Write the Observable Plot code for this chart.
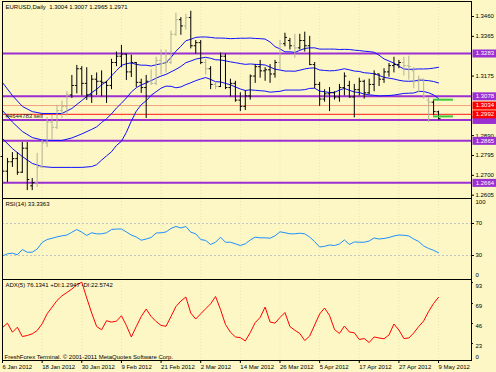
<!DOCTYPE html>
<html><head><meta charset="utf-8">
<script src="https://cdn.jsdelivr.net/npm/d3@7"></script>
<script src="https://cdn.jsdelivr.net/npm/@observablehq/plot@0.6"></script>
<style>
html,body{margin:0;padding:0;background:#FCF7C4;}
#wrap{position:relative;width:496px;height:372px;overflow:hidden;background:#FCF7C4;}
#wrap svg{position:absolute;left:0;}
</style></head><body><div id="wrap"></div>
<script>
// ---------- DATA ----------
const dates = ["2012-01-06","2012-01-09","2012-01-10","2012-01-11","2012-01-12","2012-01-13","2012-01-16","2012-01-17","2012-01-18","2012-01-19",
"2012-01-20","2012-01-23","2012-01-24","2012-01-25","2012-01-26","2012-01-27","2012-01-30","2012-01-31","2012-02-01","2012-02-02",
"2012-02-03","2012-02-06","2012-02-07","2012-02-08","2012-02-09","2012-02-10","2012-02-13","2012-02-14","2012-02-15","2012-02-16",
"2012-02-17","2012-02-20","2012-02-21","2012-02-22","2012-02-23","2012-02-24","2012-02-27","2012-02-28","2012-02-29","2012-03-01",
"2012-03-02","2012-03-05","2012-03-06","2012-03-07","2012-03-08","2012-03-09","2012-03-12","2012-03-13","2012-03-14","2012-03-15",
"2012-03-16","2012-03-19","2012-03-20","2012-03-21","2012-03-22","2012-03-23","2012-03-26","2012-03-27","2012-03-28","2012-03-29",
"2012-03-30","2012-04-02","2012-04-03","2012-04-04","2012-04-05","2012-04-06","2012-04-09","2012-04-10","2012-04-11","2012-04-12",
"2012-04-13","2012-04-16","2012-04-17","2012-04-18","2012-04-19","2012-04-20","2012-04-23","2012-04-24","2012-04-25","2012-04-26",
"2012-04-27","2012-04-30","2012-05-01","2012-05-02","2012-05-03","2012-05-04","2012-05-07","2012-05-08","2012-05-09"];

const open = [1.2790,1.2720,1.2765,1.2780,1.2715,1.2830,1.2650,1.2665,1.2740,1.2855,
1.2955,1.2930,1.3010,1.3030,1.3085,1.3130,1.3210,1.3140,1.3085,1.3160,
1.3150,1.3145,1.3130,1.3240,1.3270,1.3280,1.3195,1.3240,1.3145,1.3120,
1.3150,1.3140,1.3250,1.3235,1.3240,1.3375,1.3445,1.3415,1.3455,1.3320,
1.3335,1.3240,1.3210,1.3135,1.3125,1.3270,1.3120,1.3140,1.3060,1.3030,
1.3080,1.3175,1.3220,1.3200,1.3205,1.3185,1.3240,1.3330,1.3345,1.3320,
1.3310,1.3345,1.3320,1.3230,1.3135,1.3065,1.3090,1.3095,1.3075,1.3120,
1.3130,1.3075,1.3110,1.3150,1.3095,1.3135,1.3185,1.3160,1.3195,1.3225,
1.3230,1.3240,1.3225,1.3200,1.3150,1.3160,1.3060,1.3050,1.3004];
const high = [1.2810,1.2781,1.2809,1.2809,1.2857,1.2857,1.2685,1.2805,1.2867,1.2977,
1.2985,1.3035,1.3055,1.3100,1.3178,1.3226,1.3220,1.3215,1.3178,1.3190,
1.3200,1.3150,1.3255,1.3290,1.3322,1.3280,1.3275,1.3240,1.3160,1.3178,
1.3205,1.3265,1.3300,1.3300,1.3390,1.3476,1.3455,1.3470,1.3485,1.3345,
1.3345,1.3255,1.3220,1.3145,1.3285,1.3280,1.3160,1.3150,1.3095,1.3105,
1.3180,1.3230,1.3250,1.3215,1.3230,1.3250,1.3345,1.3380,1.3355,1.3375,
1.3375,1.3385,1.3365,1.3240,1.3145,1.3110,1.3120,1.3100,1.3135,1.3190,
1.3150,1.3135,1.3165,1.3155,1.3160,1.3200,1.3185,1.3210,1.3235,1.3265,
1.3250,1.3265,1.3270,1.3215,1.3175,1.3160,1.3072,1.3062,1.3007];
const low = [1.2665,1.2666,1.2738,1.2700,1.2709,1.2627,1.2627,1.2642,1.2733,1.2833,
1.2867,1.2920,1.2972,1.2985,1.3068,1.3090,1.3080,1.3058,1.3044,1.3082,
1.3076,1.3044,1.3110,1.3220,1.3215,1.3154,1.3168,1.3120,1.3092,1.2972,
1.3130,1.3130,1.3180,1.3190,1.3230,1.3365,1.3370,1.3395,1.3305,1.3280,
1.3230,1.3180,1.3110,1.3110,1.3120,1.3110,1.3075,1.3050,1.3005,1.3010,
1.3060,1.3140,1.3165,1.3150,1.3140,1.3165,1.3205,1.3315,1.3300,1.3260,
1.3300,1.3290,1.3225,1.3115,1.3030,1.3050,1.3005,1.3060,1.3050,1.3080,
1.3070,1.2975,1.3080,1.3065,1.3085,1.3100,1.3125,1.3140,1.3170,1.3190,
1.3210,1.3175,1.3155,1.3115,1.3095,1.3065,1.2953,1.2985,1.2965];
const close = [1.2720,1.2765,1.2780,1.2715,1.2830,1.2680,1.2665,1.2740,1.2855,1.2955,
1.2930,1.3010,1.3030,1.3085,1.3130,1.3210,1.3140,1.3085,1.3160,1.3150,
1.3145,1.3130,1.3240,1.3270,1.3280,1.3195,1.3240,1.3145,1.3120,1.3150,
1.3140,1.3250,1.3235,1.3240,1.3375,1.3445,1.3415,1.3455,1.3320,1.3335,
1.3240,1.3210,1.3135,1.3125,1.3270,1.3120,1.3140,1.3060,1.3030,1.3080,
1.3175,1.3220,1.3200,1.3205,1.3185,1.3240,1.3330,1.3360,1.3320,1.3310,
1.3345,1.3320,1.3230,1.3135,1.3065,1.3090,1.3095,1.3075,1.3120,1.3175,
1.3075,1.3110,1.3150,1.3095,1.3135,1.3185,1.3160,1.3195,1.3225,1.3230,
1.3240,1.3225,1.3220,1.3150,1.3160,1.3080,1.3050,1.3005,1.2971];
// bar paint group as seen in the picture (m = dark bars, a = pale bars)
const barKind = ["m","m","m","m","m","m","m","a","a","a",
"a","a","a","a","m","m","m","m","m","m",
"m","m","m","m","m","m","m","m","m","m",
"a","a","a","a","a","a","m","a","m","m",
"m","a","m","a","m","m","m","m","m","m",
"m","m","m","m","m","m","a","m","m","a",
"m","m","m","m","m","m","m","m","m","m",
"m","m","m","m","m","m","m","m","m","m",
"m","a","a","a","a","a","a","m","m"];

// Bollinger bands (20, 1 dev) as drawn in the picture
const bandIdx = [0,2,4,6,8,10,12,14,16,18,
19,20,21,22,23,24,25,26,27,28,29,
30,31,32,33,34,35,36,37,38,39,
40,41,42,43,44,45,46,47,48,49,
50,51,52,53,54,55,56,57,58,59,
60,61,62,63,64,65,66,67,68,69,
70,71,72,73,74,75,76,77,78,79,
80,81,82,83,84,85,86,87,88];
const bbUpper = [1.3144,1.3082,1.3030,1.3005,1.2996,1.2996,1.2996,1.3020,1.3058,1.3096,
1.3112,1.3133,1.3149,1.3176,1.3201,1.3226,1.3234,1.3238,1.3231,1.3227,1.3227,
1.3223,1.3229,1.3234,1.3239,1.3264,1.3294,1.3318,1.3344,1.3351,1.3360,
1.3362,1.3362,1.3360,1.3357,1.3357,1.3356,1.3354,1.3355,1.3356,1.3356,
1.3357,1.3355,1.3354,1.3352,1.3338,1.3316,1.3305,1.3291,1.3291,1.3288,
1.3298,1.3307,1.3310,1.3310,1.3304,1.3304,1.3304,1.3304,1.3302,1.3303,
1.3302,1.3299,1.3297,1.3294,1.3292,1.3289,1.3275,1.3257,1.3247,1.3237,
1.3222,1.3209,1.3207,1.3208,1.3209,1.3209,1.3210,1.3213,1.3217];
const bbMiddle = [1.3010,1.2955,1.2910,1.2881,1.2869,1.2867,1.2867,1.2879,1.2898,1.2920,
1.2932,1.2953,1.2971,1.2994,1.3022,1.3045,1.3070,1.3099,1.3119,1.3133,1.3142,
1.3153,1.3165,1.3175,1.3183,1.3195,1.3207,1.3221,1.3239,1.3247,1.3256,
1.3261,1.3265,1.3260,1.3253,1.3252,1.3248,1.3243,1.3239,1.3235,1.3231,
1.3233,1.3231,1.3230,1.3228,1.3218,1.3208,1.3204,1.3199,1.3199,1.3198,
1.3203,1.3209,1.3213,1.3214,1.3204,1.3202,1.3200,1.3201,1.3205,1.3210,
1.3205,1.3199,1.3197,1.3191,1.3189,1.3186,1.3178,1.3169,1.3165,1.3161,
1.3155,1.3151,1.3150,1.3151,1.3156,1.3155,1.3153,1.3149,1.3142];
const bbLower = [1.2876,1.2828,1.2790,1.2757,1.2742,1.2738,1.2738,1.2738,1.2738,1.2742,
1.2751,1.2773,1.2793,1.2813,1.2843,1.2863,1.2906,1.2960,1.3007,1.3038,1.3057,
1.3083,1.3100,1.3117,1.3127,1.3126,1.3119,1.3123,1.3134,1.3143,1.3153,
1.3161,1.3168,1.3159,1.3148,1.3147,1.3140,1.3133,1.3123,1.3113,1.3106,
1.3109,1.3107,1.3105,1.3103,1.3098,1.3100,1.3102,1.3108,1.3108,1.3108,
1.3108,1.3110,1.3116,1.3117,1.3103,1.3100,1.3096,1.3097,1.3108,1.3116,
1.3107,1.3099,1.3096,1.3089,1.3085,1.3083,1.3080,1.3081,1.3082,1.3084,
1.3088,1.3092,1.3093,1.3094,1.3102,1.3101,1.3095,1.3085,1.3067];

const levelValues = [1.3283,1.3078,1.2965,1.2865,1.2664,1.3034,1.2992];
const levelKinds  = ["level","level","level","level","level","stop","order"];
const markLevels = [1.3062,1.2982];
const markFrom = 87, markTo = 91;

const rsi = [29.4,32.1,32.9,30.9,37.5,34.1,34.1,38.1,46.3,50.0,
51.5,53.3,54.6,55.6,59.1,62.5,59.1,55.0,58.4,57.1,
57.1,58.4,62.5,63.1,63.1,59.4,55.6,53.1,49.1,50.6,
52.5,58.1,58.4,59.4,63.8,66.3,64.4,66.3,59.1,57.1,
50.0,48.8,43.8,46.6,52.9,46.6,46.6,44.6,42.5,44.6,
49.4,52.9,52.1,52.1,51.6,54.6,59.6,58.5,57.1,57.1,
57.9,57.1,53.1,47.3,40.6,41.5,43.1,42.5,44.4,49.4,
43.8,46.9,46.6,46.6,48.1,51.9,50.6,51.3,52.5,54.4,
55.6,55.3,54.4,50.6,47.5,41.9,38.8,36.5,33.3];
const rsiLevels = [70,30];

const adx = [41.4,46.3,36.0,41.7,31.0,32.2,34.1,37.9,45.6,57.1,
64.7,72.4,77.8,81.6,85.6,90.6,93.4,75.3,58.0,42.5,
38.7,49.2,47.6,48.6,54.9,43.7,30.5,42.5,54.0,62.6,
54.0,48.3,43.7,42.8,54.0,65.5,71.8,76.4,58.0,51.1,
57.1,62.9,68.6,77.0,62.0,44.8,36.0,30.5,29.7,25.9,
35.6,47.1,52.9,64.9,47.7,46.4,52.9,58.6,42.5,38.2,
34.5,26.4,31.6,44.3,56.9,63.8,55.2,39.1,34.5,43.1,
36.2,35.3,27.6,28.7,24.1,30.5,29.3,28.4,32.8,45.4,
38.5,28.7,29.3,35.1,42.5,48.9,59.8,69.0,76.1];

// price axis labels that stay readable (1.3270, 1.3080, 1.2985 sit under level boxes)
const priceTicks = [1.3460,1.3365,1.3175,1.2890,1.2795,1.2700,1.2605];
const adxTicks = [93,69,46,23];
const dateTickIdx = [0,8,16,24,32,40,48,56,64,72,80,88];
const dateTickLabels = ["6 Jan 2012","18 Jan 2012","30 Jan 2012","9 Feb 2012","21 Feb 2012","2 Mar 2012","14 Mar 2012","26 Mar 2012","5 Apr 2012","17 Apr 2012","27 Apr 2012","9 May 2012"];

const headerText = "EURUSD,Daily  1.3004 1.3007 1.2965 1.2971";
const orderText = "#4644783 sell";
const rsiTitle = "RSI(14) 33.3363";
const adxTitle = "ADX(5) 76.1341 +DI:1.2947 -DI:22.5742";
const copyright = "FreshForex Terminal. \u00A9 2001-2011 MetaQuotes Software Corp.";

// ---------- DRAW ----------
const FONT = "'Liberation Sans', Arial, sans-serif";
const xDomain = [0, 94.65];
const GRID = "#EDE4B2";
const common = {width: 496, marginLeft: 2, marginRight: 25,
  style: {background: "transparent", fontFamily: FONT, fontSize: "6px", color: "#000", overflow: "visible"}};

const bars = dates.map((d, i) => ({i, date: d, open: open[i], high: high[i], low: low[i], close: close[i], kind: barKind[i]}));
const barColor = d => d.kind === "a" ? "#B2B299" : "#000000";
const bands = bandIdx.map((i, k) => ({i, upper: bbUpper[k], middle: bbMiddle[k], lower: bbLower[k]}));
const levels = levelValues.map((v, k) => ({value: v, kind: levelKinds[k]}));
const LINE = {level: "#9A2FD2", stop: "#F2A080", order: "#FF1A1A"};
const BOX = {level: "#9A2FD2", stop: "#FF0000", order: "#FF0000"};
const purple = levels.filter(d => d.kind === "level");
const reds = levels.filter(d => d.kind !== "level");
// the purple box just under the 1.2992 order box keeps only its edge visible
const purpleLabelled = purple.filter(d => d.value !== 1.2965);
const BLUE = "#1010FF";

const main = Plot.plot({
  ...common, height: 198, marginTop: 1, marginBottom: 0,
  x: {domain: xDomain, axis: null},
  y: {domain: [1.25892, 1.35318], axis: null},
  marks: [
    Plot.ruleX(dateTickIdx, {x: d => d, stroke: GRID, strokeDasharray: "1,2"}),
    Plot.ruleY(reds, {y: "value", stroke: d => LINE[d.kind], strokeWidth: 1}),
    Plot.ruleY(purple, {y: "value", stroke: LINE.level, strokeWidth: 2}),
    Plot.line(bands, {x: "i", y: "upper", stroke: BLUE, strokeWidth: 1}),
    Plot.line(bands, {x: "i", y: "middle", stroke: BLUE, strokeWidth: 1}),
    Plot.line(bands, {x: "i", y: "lower", stroke: BLUE, strokeWidth: 1}),
    Plot.ruleX(bars, {x: "i", y1: "low", y2: "high", stroke: barColor, strokeWidth: 1}),
    Plot.link(bars, {x1: d => d.i - 0.4, x2: d => d.i, y1: "open", y2: "open", stroke: barColor}),
    Plot.link(bars, {x1: d => d.i, x2: d => d.i + 0.4, y1: "close", y2: "close", stroke: barColor}),
    Plot.ruleY(markLevels, {y: d => d, x1: markFrom, x2: markTo, stroke: "#3CC83C", strokeWidth: 2}),
    Plot.text([orderText], {y: () => 1.2992, frameAnchor: "left", dx: 3, dy: 2, textAnchor: "start", fill: "#222"}),
    Plot.frame({stroke: "#000"}),
    Plot.axisY({anchor: "right", ticks: priceTicks, tickFormat: d3.format(".4f"), tickSize: 2, tickPadding: 2, fontSize: 6}),
    Plot.ruleY(purple, {y: "value", x1: 94.95, x2: 99.8, stroke: BOX.level, strokeWidth: 8}),
    Plot.text(purpleLabelled, {y: "value", x: 95.5, text: d => d.value.toFixed(4), fill: "#fff", textAnchor: "start"}),
    Plot.ruleY(reds, {y: "value", x1: 94.95, x2: 99.8, stroke: d => BOX[d.kind], strokeWidth: 8}),
    Plot.text(reds, {y: "value", x: 95.5, text: d => d.value.toFixed(4), fill: "#fff", textAnchor: "start"}),
    Plot.text([headerText], {frameAnchor: "top-left", dx: 3, dy: 3, textAnchor: "start", lineAnchor: "top"})
  ]
});
main.style.top = "0px";

const rsiPlot = Plot.plot({
  ...common, height: 81, marginTop: 0, marginBottom: 0,
  x: {domain: xDomain, axis: null},
  y: {domain: [0, 101.25], axis: null},
  marks: [
    Plot.ruleX(dateTickIdx, {x: d => d, stroke: GRID, strokeDasharray: "1,2"}),
    Plot.ruleY(rsiLevels, {y: d => d, stroke: "#C4C4C4", strokeDasharray: "2,2"}),
    Plot.line(rsi, {x: (d, i) => i, y: d => d, stroke: "#1E90FF", strokeWidth: 1}),
    Plot.frame({stroke: "#000"}),
    Plot.axisY({anchor: "right", ticks: rsiLevels, tickSize: 2, tickPadding: 2, fontSize: 6}),
    Plot.text([100], {y: d => d, text: d => String(d), frameAnchor: "right", dx: 4, dy: 3, textAnchor: "start"}),
    Plot.text([0], {y: d => d, text: d => String(d), frameAnchor: "right", dx: 4, dy: -4, textAnchor: "start"}),
    Plot.text([rsiTitle], {frameAnchor: "top-left", dx: 3, dy: 3, textAnchor: "start", lineAnchor: "top"})
  ]
});
rsiPlot.style.top = "198px";

const adxPlot = Plot.plot({
  ...common, height: 93, marginTop: 0, marginBottom: 12,
  x: {domain: xDomain},
  y: {domain: [3.45, 96.55], axis: null},
  marks: [
    Plot.ruleX(dateTickIdx, {x: d => d, stroke: GRID, strokeDasharray: "1,2"}),
    Plot.line(adx, {x: (d, i) => i, y: d => d, stroke: "#FF0000", strokeWidth: 1}),
    Plot.frame({stroke: "#000"}),
    Plot.axisX({ticks: dateTickIdx, tickFormat: d => dateTickLabels[dateTickIdx.indexOf(d)], textAnchor: "start", tickSize: 3, tickPadding: 1, fontSize: 6, label: null}),
    Plot.ruleY(adxTicks, {y: d => d, x1: 94.65, x2: 95.05, stroke: "#000"}),
    Plot.text(adxTicks, {y: d => d, text: d => String(d), frameAnchor: "right", dx: 4, dy: 3, textAnchor: "start"}),
    Plot.text([0], {y: d => d, text: d => String(d), frameAnchor: "right", dx: 4, dy: -6, textAnchor: "start"}),
    Plot.text([adxTitle], {frameAnchor: "top-left", dx: 3, dy: 3, textAnchor: "start", lineAnchor: "top"}),
    Plot.text([copyright], {frameAnchor: "bottom-left", dx: 2, dy: -2, textAnchor: "start", lineAnchor: "bottom"})
  ]
});
adxPlot.style.top = "279px";

const wrap = document.getElementById("wrap");
wrap.append(main, rsiPlot, adxPlot);
</script>
</body></html>
